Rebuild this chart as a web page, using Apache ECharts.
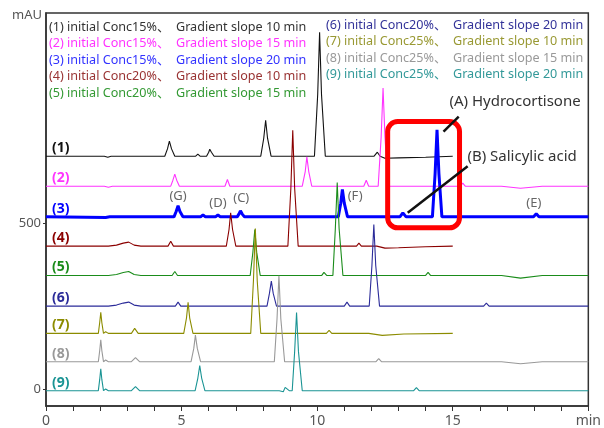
<!DOCTYPE html>
<html>
<head>
<meta charset="utf-8">
<script src="https://cdn.jsdelivr.net/npm/echarts@6/dist/echarts.min.js"></script>
<style>
  html, body { margin: 0; padding: 0; background: #fff; }
  #main { width: 604px; height: 428px; }
</style>
</head>
<body>
<div id="main"></div>
<script>
// run labels + conditions
var runNames = ['(1)', '(2)', '(3)', '(4)', '(5)', '(6)', '(7)', '(8)', '(9)'];
var concText = ['initial Conc15%、', 'initial Conc15%、', 'initial Conc15%、',
                'initial Conc20%、', 'initial Conc20%、', 'initial Conc20%、',
                'initial Conc25%、', 'initial Conc25%、', 'initial Conc25%、'];
var slopeText = ['Gradient slope 10 min', 'Gradient slope 15 min', 'Gradient slope 20 min',
                 'Gradient slope 10 min', 'Gradient slope 15 min', 'Gradient slope 20 min',
                 'Gradient slope 10 min', 'Gradient slope 15 min', 'Gradient slope 20 min'];
var lineColors = ['#111111', '#ff33ff', '#0000ff', '#8b0000', '#1a8c1a', '#2b2b99', '#8c8c00', '#999999', '#1a9494'];
var textColors = ['#333333', '#ff33ff', '#3333ff', '#993333', '#339933', '#333399', '#999933', '#999999', '#339999'];

// baseline offset of each trace (mAU)
var offsets = [700, 610, 518, 430, 342, 250, 168, 83, -4];

// [time min, mAU above baseline]
var run1 = [[0,0],[2.15,0],[2.28,-3],[2.4,0],
  [4.38,0],[4.48,22],[4.55,45],[4.63,22],[4.75,0],
  [5.05,0],[5.12,6],[5.2,0],[5.52,0],[5.6,6],[5.68,0],
  [5.92,0],[6.0,12],[6.04,21],[6.1,12],[6.2,0],
  [7.92,0],[8.03,54],[8.1,108],[8.17,54],[8.3,0],
  [9.9,0],[10.02,186],[10.09,372],[10.16,186],[10.3,0],
  [12.1,0],[12.22,12],[12.32,0],[12.5,-6],[13,-5],[14,-3],[15,0]];
var run2 = [[0,0],[2.15,0],[2.3,-3],[2.45,0],
  [4.6,0],[4.68,18],[4.75,36],[4.82,18],[4.92,0],
  [6.6,0],[6.69,20],[6.78,0],
  [9.45,0],[9.56,44],[9.62,88],[9.69,44],[9.8,0],
  [11.72,0],[11.81,18],[11.9,0],
  [12.25,0],[12.36,148],[12.43,295],[12.5,148],[12.62,0],
  [15.28,0],[15.37,9],[15.46,0],
  [16.8,0],[17.5,-6],[18.3,0],[20,0]];
var run3 = [[0,0],[2.2,-2],[2.35,0],
  [4.72,0],[4.8,16],[4.87,33],[4.94,16],[5.05,0],
  [5.7,0],[5.79,6],[5.88,0],[6.25,0],[6.34,6],[6.43,0],
  [7.05,0],[7.12,9],[7.17,18],[7.23,9],[7.32,0],
  [10.78,0],[10.87,41],[10.93,82],[11.0,41],[11.12,0],
  [13.05,0],[13.16,12],[13.28,0],
  [14.25,0],[14.35,130],[14.42,261],[14.49,130],[14.6,0],
  [17.98,0],[18.08,9],[18.18,0],[20,0]];
var run4 = [[0,0],[2.3,0],[2.6,3],[2.85,9],[3.05,12],[3.25,3],[3.5,0],
  [4.5,0],[4.6,15],[4.7,0],
  [6.65,0],[6.75,50],[6.81,100],[6.88,50],[7.0,0],
  [8.92,0],[9.03,174],[9.1,348],[9.17,174],[9.3,0],
  [11.45,0],[11.54,9],[11.63,0],
  [12.2,0],[12.5,-6],[13,-5],[14,-2],[15,0]];
var run5 = [[0,0],[2.3,0],[2.6,3],[2.85,9],[3.05,12],[3.25,3],[3.5,0],
  [4.65,0],[4.75,12],[4.85,0],
  [7.53,0],[7.63,70],[7.7,138],[7.77,70],[7.9,0],
  [10.17,0],[10.25,9],[10.35,0],
  [10.58,0],[10.67,140],[10.74,279],[10.81,140],[10.95,0],
  [14.0,0],[14.09,9],[14.18,0],
  [16.8,0],[17.5,-8],[18.3,0],[20,0]];
var run6 = [[0,0],[2.3,0],[2.6,3],[2.85,9],[3.05,12],[3.25,3],[3.5,0],
  [4.77,0],[4.87,12],[4.97,0],
  [8.15,0],[8.24,38],[8.31,75],[8.38,38],[8.5,0],
  [11.0,0],[11.1,12],[11.2,0],
  [11.92,0],[12.02,122],[12.09,245],[12.16,122],[12.3,0],
  [16.14,0],[16.24,9],[16.34,0],[20,0]];
var run7 = [[0,0],[1.93,0],[1.98,32],[2.02,63],[2.06,32],[2.12,0],[2.2,5],[2.3,0],
  [3.15,0],[3.27,15],[3.4,0],
  [5.08,0],[5.18,46],[5.24,93],[5.3,46],[5.42,0],
  [7.55,0],[7.65,158],[7.72,315],[7.79,158],[7.92,0],
  [10.34,0],[10.44,9],[10.54,0],
  [11.9,0],[12.4,-6],[13.2,-2],[15,0]];
var run8 = [[0,0],[1.93,0],[1.98,33],[2.02,66],[2.06,33],[2.12,0],[2.2,5],[2.3,0],
  [3.15,0],[3.3,12],[3.45,0],
  [5.35,0],[5.45,40],[5.51,80],[5.58,40],[5.7,0],
  [8.42,0],[8.52,129],[8.59,258],[8.66,129],[8.8,0],
  [12.17,0],[12.27,9],[12.37,0],
  [16.8,0],[17.5,-6],[18.3,0],[20,0]];
var run9 = [[0,0],[1.93,0],[1.98,33],[2.02,66],[2.06,33],[2.12,0],[2.2,5],[2.3,0],
  [3.15,0],[3.3,12],[3.45,0],
  [5.5,0],[5.6,38],[5.67,75],[5.74,38],[5.86,0],
  [8.6,0],[8.75,-3],[8.82,10],[8.89,15],[8.97,0],
  [9.08,0],[9.17,118],[9.24,235],[9.31,118],[9.45,0],
  [13.56,0],[13.66,9],[13.76,0],[20,0]];
var runs = [run1, run2, run3, run4, run5, run6, run7, run8, run9];

// peak tags on run (3): [label, time, mAU]
var tagNames = ['(G)', '(D)', '(C)', '(F)', '(E)'];
var tagTimes = [4.87, 6.34, 7.2, 11.4, 17.99];
var tagLevels = [579, 558, 573, 580, 560];

var xLabels = {0: '0', 5: '5', 10: '10', 15: '15', 20: 'min'};
var fontFam = "'Noto Sans', 'Noto Sans CJK JP', sans-serif";

var chart = echarts.init(document.getElementById('main'));

var series = runs.map(function (pts, i) {
    return {
        name: runNames[i],
        type: 'line',
        showSymbol: false,
        silent: true,
        z: 3,
        lineStyle: { color: lineColors[i], width: i == 2 ? 3 : 1.1 },
        data: pts.map(function (p) { return [p[0], p[1] + offsets[i]]; })
    };
});

chart.setOption({
    animation: false,
    grid: { left: 46, right: 15, top: 13, bottom: 21, show: true, borderColor: '#333', borderWidth: 1.5 },
    xAxis: {
        type: 'value', min: 0, max: 20, interval: 1,
        splitLine: { show: false },
        axisLine: { onZero: false, lineStyle: { color: '#333', width: 1.5 } },
        axisTick: { length: 5, lineStyle: { color: '#333' } },
        axisLabel: {
            color: '#555', fontSize: 14, fontFamily: fontFam, margin: 8,
            formatter: function (v) { return xLabels[v] || ''; }
        }
    },
    yAxis: {
        type: 'value', min: -50, max: 1130,
        splitLine: { show: false },
        axisLine: { onZero: false, lineStyle: { color: '#333', width: 1.5 } },
        axisTick: { length: 3, customValues: [0, 500], lineStyle: { color: '#333' } },
        axisLabel: { customValues: [0, 500], color: '#555', fontSize: 13, fontFamily: fontFam, margin: 5 }
    },
    series: series
});

// annotations
var g = [];
g.push({ type: 'text', left: 12, top: 9, style: { text: 'mAU', fill: '#555', font: '13px ' + fontFam } });

for (var i = 0; i < 9; i++) {
    var col = i < 5 ? 0 : 1;
    var row = i < 5 ? i : i - 5;
    var x0 = col == 0 ? 49 : 326;
    var y0 = (col == 0 ? 27 : 25) + row * 16.6;
    g.push({ type: 'text', x: x0, y: y0, style: { text: runNames[i] + ' ' + concText[i], fill: textColors[i], font: '12.6px ' + fontFam, textVerticalAlign: 'middle' } });
    g.push({ type: 'text', x: x0 + 127, y: y0, style: { text: slopeText[i], fill: textColors[i], font: '12.6px ' + fontFam, textVerticalAlign: 'middle' } });

    var base = chart.convertToPixel({ gridIndex: 0 }, [0, offsets[i]]);
    g.push({ type: 'text', x: 52, y: base[1] - 8, style: { text: runNames[i], fill: lineColors[i], font: 'bold 14px ' + fontFam, textVerticalAlign: 'middle' } });
}

tagNames.forEach(function (t, k) {
    var p = chart.convertToPixel({ gridIndex: 0 }, [tagTimes[k], tagLevels[k]]);
    g.push({ type: 'text', x: p[0], y: p[1], style: { text: t, fill: '#666', font: '13px ' + fontFam, textAlign: 'center', textVerticalAlign: 'middle' } });
});

var b1 = chart.convertToPixel({ gridIndex: 0 }, [12.6, 804]);
var b2 = chart.convertToPixel({ gridIndex: 0 }, [15.25, 485]);
g.push({ type: 'rect', shape: { x: b1[0], y: b1[1], width: b2[0] - b1[0], height: b2[1] - b1[1], r: 10 },
         style: { fill: 'none', stroke: '#ff0000', lineWidth: 5 }, z: 10 });

var a1 = chart.convertToPixel({ gridIndex: 0 }, [14.66, 774]);
var a2 = chart.convertToPixel({ gridIndex: 0 }, [15.22, 819]);
var c1 = chart.convertToPixel({ gridIndex: 0 }, [13.34, 530]);
var c2 = chart.convertToPixel({ gridIndex: 0 }, [15.55, 670]);
g.push({ type: 'line', shape: { x1: a1[0], y1: a1[1], x2: a2[0], y2: a2[1] }, style: { stroke: '#111', lineWidth: 2.5 }, z: 11 });
g.push({ type: 'line', shape: { x1: c1[0], y1: c1[1], x2: c2[0], y2: c2[1] }, style: { stroke: '#111', lineWidth: 2.5 }, z: 11 });

var ta = chart.convertToPixel({ gridIndex: 0 }, [14.88, 863]);
var tb = chart.convertToPixel({ gridIndex: 0 }, [15.54, 699]);
g.push({ type: 'text', x: ta[0], y: ta[1], style: { text: '(A) Hydrocortisone', fill: '#333', font: '15px ' + fontFam, textVerticalAlign: 'middle' }, z: 11 });
g.push({ type: 'text', x: tb[0], y: tb[1], style: { text: '(B) Salicylic acid', fill: '#333', font: '15px ' + fontFam, textVerticalAlign: 'middle' }, z: 11 });

chart.setOption({ graphic: g });
</script>
</body>
</html>
